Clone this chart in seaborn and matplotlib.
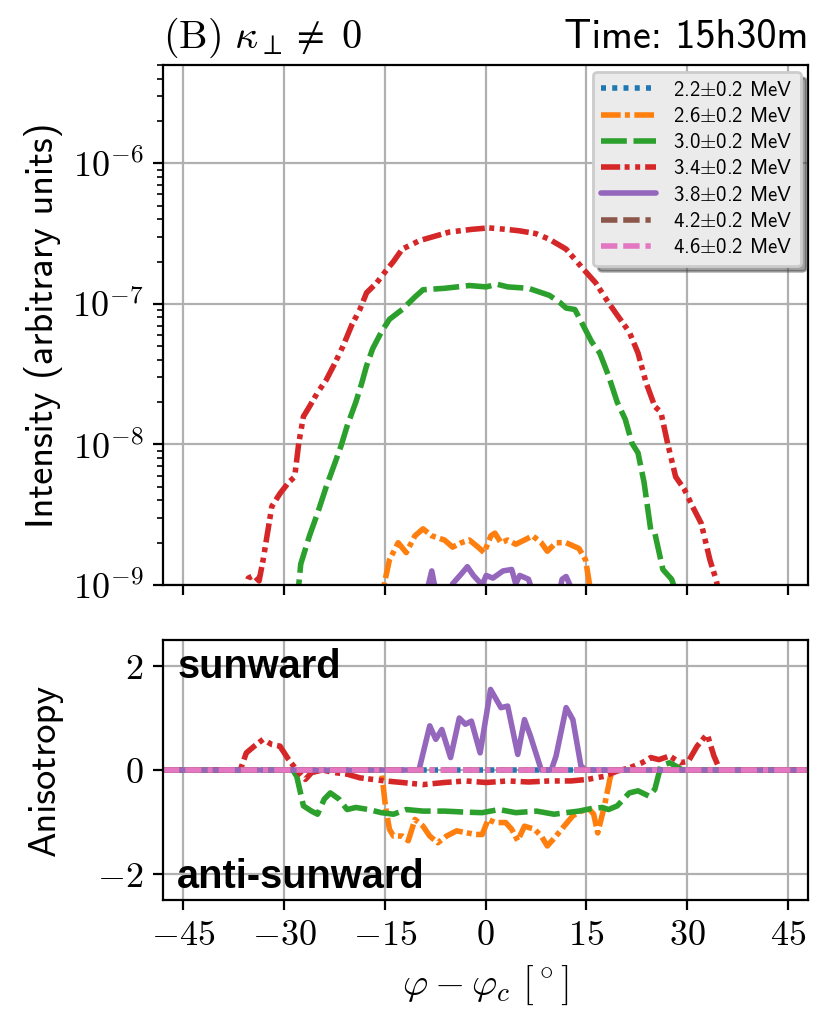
"""Intensity and anisotropy vs longitude offset, panel (B) kappa_perp != 0"""

import matplotlib
matplotlib.use("Agg")
import matplotlib.pyplot as plt
from matplotlib.ticker import LogLocator, NullFormatter
import seaborn as sns

# ---- data ----
labels = [r"2.2$\pm$0.2 MeV", r"2.6$\pm$0.2 MeV", r"3.0$\pm$0.2 MeV", r"3.4$\pm$0.2 MeV",
          r"3.8$\pm$0.2 MeV", r"4.2$\pm$0.2 MeV", r"4.6$\pm$0.2 MeV"]
colors = ["#1f77b4", "#ff7f0e", "#2ca02c", "#d62728", "#9467bd", "#8c564b", "#e377c2"]

# intensity (top panel), channels below 1e-9 stay off the plot
int_x_22 = [-48, 48]
int_22 = [1e-11, 1e-11]

int_x_26 = [-48, -15.4, -15.1, -14.3, -13.0, -11.8, -10.5, -9.3, -8.0, -6.1, -4.9, -3.6, -2.4,
            -1.1, -0.2, 0.8, 1.4, 2.3, 3.3, 4.5, 5.8, 7.0, 8.3, 9.2, 10.5, 12.0, 13.9, 14.9,
            15.5, 15.7, 48]
int_26 = [1e-11, 8e-10, 1.0e-9, 1.51e-9, 2.0e-9, 1.70e-9, 2.24e-9, 2.51e-9, 2.24e-9, 2.09e-9,
          1.86e-9, 2.0e-9, 2.09e-9, 1.86e-9, 1.70e-9, 2.24e-9, 2.34e-9, 2.0e-9, 2.09e-9, 1.95e-9,
          2.09e-9, 2.24e-9, 2.0e-9, 1.74e-9, 2.0e-9, 2.0e-9, 1.82e-9, 1.51e-9, 1.0e-9, 8e-10, 1e-11]

int_x_30 = [-48, -28.2, -27.8, -27.5, -26.2, -25.0, -23.7, -22.4, -21.5, -20.6, -19.3, -18.4,
            -17.7, -16.8, -15.5, -14.3, -12.4, -10.5, -9.3, -6.1, -2.4, 0.1, 1.7, 3.3, 6.4, 9.5,
            11.1, 12.0, 13.3, 14.5, 15.8, 17.0, 18.3, 19.6, 20.8, 21.8, 22.7, 23.6, 24.6, 25.2,
            26.4, 27.7, 28.0, 28.3, 48]
int_30 = [1e-11, 8e-10, 1.0e-9, 1.41e-9, 2.24e-9, 3.24e-9, 5.01e-9, 7.41e-9, 9.77e-9, 1.35e-8,
          2.0e-8, 2.75e-8, 3.63e-8, 4.79e-8, 6.31e-8, 7.76e-8, 9.12e-8, 1.12e-7, 1.26e-7, 1.29e-7,
          1.35e-7, 1.32e-7, 1.38e-7, 1.32e-7, 1.29e-7, 1.15e-7, 1.02e-7, 9.33e-8, 9.12e-8, 7.08e-8,
          5.37e-8, 4.47e-8, 3.09e-8, 2.0e-8, 1.51e-8, 1.02e-8, 8.71e-9, 5.37e-9, 2.45e-9, 2.34e-9,
          1.29e-9, 1.10e-9, 1.0e-9, 8e-10, 1e-11]

int_x_34 = [-48, -36.0, -35.3, -34.5, -33.7, -33.1, -31.8, -30.6, -29.3, -28.4, -27.8, -27.1,
            -26.2, -25.0, -23.7, -22.4, -21.2, -19.9, -18.7, -17.7, -16.2, -14.9, -13.7, -12.4,
            -9.8, -5.4, -2.0, 0.5, 3.0, 5.0, 7.5, 9.5, 12.0, 14.5, 16.4, 18.3, 19.6, 21.4, 22.7,
            23.9, 25.2, 26.1, 27.1, 28.3, 29.6, 30.8, 32.1, 33.4, 34.3, 35.0, 48]
int_34 = [1e-11, 9.0e-10, 1.12e-9, 1.17e-9, 1.07e-9, 1.51e-9, 3.63e-9, 4.47e-9, 5.37e-9, 5.89e-9,
          1.02e-8, 1.58e-8, 1.86e-8, 2.34e-8, 2.88e-8, 3.80e-8, 5.01e-8, 7.08e-8, 9.12e-8, 1.20e-7,
          1.41e-7, 1.70e-7, 2.0e-7, 2.45e-7, 2.82e-7, 3.24e-7, 3.39e-7, 3.47e-7, 3.39e-7, 3.31e-7,
          3.16e-7, 2.88e-7, 2.45e-7, 1.78e-7, 1.41e-7, 1.02e-7, 8.32e-8, 6.31e-8, 4.47e-8, 2.75e-8,
          1.86e-8, 1.70e-8, 1.02e-8, 5.89e-9, 4.79e-9, 3.63e-9, 2.75e-9, 1.51e-9, 1.10e-9, 7.9e-10,
          1e-11]

int_x_38 = [-48, -9.0, -8.0, -7.4, -5.5, -4.9, -3.6, -2.7, -1.8, -0.5, 0.1, 1.1, 2.6, 3.9, 4.5,
            5.1, 6.4, 7.0, 10.8, 11.4, 12.0, 13.0, 48]
int_38 = [1e-11, 8e-10, 1.26e-9, 9e-10, 8e-10, 1.02e-9, 1.20e-9, 1.35e-9, 1.17e-9, 1.0e-9, 1.17e-9,
          1.12e-9, 1.26e-9, 1.29e-9, 1.02e-9, 1.17e-9, 1.10e-9, 9e-10, 8e-10, 1.10e-9, 1.15e-9,
          9e-10, 1e-11]

int_x_42 = [-48, 48]
int_42 = [1e-11, 1e-11]
int_x_46 = [-48, 48]
int_46 = [1e-11, 1e-11]

# anisotropy (bottom panel)
ani_x_22 = [-48, 48]
ani_22 = [0, 0]

ani_x_26 = [-48, -15.5, -14.9, -14.3, -13.7, -12.4, -11.5, -10.5, -9.3, -8.3, -7.1, -5.8, -4.3,
            -2.7, -1.4, -0.5, 0.4, 1.4, 3.0, 3.9, 4.8, 5.8, 7.3, 8.3, 9.2, 10.5, 11.7, 13.0, 14.2,
            15.5, 16.1, 16.7, 17.7, 18.6, 19.2, 48]
ani_26 = [0, 0, -0.69, -1.14, -1.27, -1.27, -1.36, -0.95, -1.08, -1.27, -1.40, -1.27, -1.17,
          -1.21, -1.24, -1.24, -0.95, -1.01, -1.01, -1.14, -1.36, -1.08, -1.14, -1.27, -1.46,
          -1.27, -1.08, -0.88, -0.79, -0.76, -0.85, -1.21, -0.69, -0.12, 0, 0]

ani_x_30 = [-48, -28.7, -28.1, -27.1, -25.9, -25.0, -24.0, -23.1, -21.8, -20.6, -19.3, -17.4,
            -15.5, -13.7, -11.8, -9.3, -6.1, -3.0, -0.5, 2.0, 4.5, 7.6, 10.2, 12.0, 13.9, 15.8,
            17.4, 18.3, 19.6, 21.4, 22.7, 24.3, 25.2, 26.1, 27.4, 28.3, 29.3, 48]
ani_30 = [0, 0, -0.12, -0.69, -0.79, -0.85, -0.56, -0.44, -0.56, -0.76, -0.72, -0.76, -0.82,
          -0.85, -0.76, -0.79, -0.79, -0.81, -0.82, -0.76, -0.82, -0.79, -0.85, -0.82, -0.79,
          -0.74, -0.72, -0.76, -0.69, -0.44, -0.40, -0.5, -0.37, 0.08, 0.14, 0.08, 0, 0]

ani_x_34 = [-48, -36.5, -35.6, -34.4, -33.1, -31.8, -30.6, -29.3, -28.1, -26.8, -25.9, -24.3,
            -22.4, -20.6, -18.7, -16.8, -14.9, -12.4, -9.3, -6.1, -3.0, 0.1, 3.3, 6.4, 9.5, 12.7,
            15.2, 17.7, 19.6, 21.4, 23.3, 24.6, 25.8, 27.4, 29.0, 30.2, 31.5, 33.0, 34.0, 34.9, 48]
ani_34 = [0, 0, 0.33, 0.46, 0.59, 0.49, 0.46, 0.2, 0, -0.18, -0.05, 0, -0.05, -0.08, -0.15,
          -0.18, -0.21, -0.24, -0.28, -0.24, -0.21, -0.24, -0.21, -0.23, -0.21, -0.21, -0.18,
          -0.12, -0.02, 0.04, 0.14, 0.24, 0.2, 0.27, 0.14, 0.17, 0.46, 0.69, 0.27, 0, 0]

ani_x_38 = [-48, -9.9, -8.3, -7.4, -6.5, -5.2, -3.9, -3.0, -2.1, -0.8, 0.75, 2.3, 3.3, 4.8, 5.8,
            6.7, 8.3, 9.8, 10.5, 12.0, 13.0, 14.2, 14.9, 48]
ani_38 = [0, 0, 0.85, 0.59, 0.78, 0.24, 1.0, 0.88, 0.94, 0.33, 1.55, 1.2, 1.23, 0.30, 0.97, 0.65,
          0, 0, 0.27, 1.2, 0.97, 0.08, 0, 0]

ani_x_42 = [-48, 48]
ani_42 = [0, 0]
ani_x_46 = [-48, 48]
ani_46 = [0, 0]

x_ticks = [-45, -30, -15, 0, 15, 30, 45]

# ---- style ----
sns.set_style("ticks", {"axes.grid": True, "grid.color": "#b0b0b0", "axes.edgecolor": "black",
                        "text.color": "black", "axes.labelcolor": "black",
                        "xtick.color": "black", "ytick.color": "black"})
plt.rcParams["font.family"] = ["cmss10", "DejaVu Sans"]
plt.rcParams["mathtext.fontset"] = "cm"
plt.rcParams["lines.scale_dashes"] = False
plt.rcParams["axes.unicode_minus"] = False

styles = [(0, (1.8, 2.25)),
          (0, (7.1, 1.5, 1.8, 1.6)),
          (0, (9.3, 2.4)),
          (0, (6.9, 1.6, 1.8, 2.0, 1.8, 1.8)),
          "-",
          (0, (5.9, 2.1, 5.9, 2.1, 1.9, 2.1)),
          (0, (5.9, 2.1, 5.9, 2.1, 1.9, 2.1))]

int_x = [int_x_22, int_x_26, int_x_30, int_x_34, int_x_38, int_x_42, int_x_46]
int_y = [int_22, int_26, int_30, int_34, int_38, int_42, int_46]
ani_x = [ani_x_22, ani_x_26, ani_x_30, ani_x_34, ani_x_38, ani_x_42, ani_x_46]
ani_y = [ani_22, ani_26, ani_30, ani_34, ani_38, ani_42, ani_46]

fig = plt.figure(figsize=(4.15, 5.15), dpi=200)
ax1 = fig.add_axes([0.1964, 0.4320, 0.7771, 0.5049])
ax2 = fig.add_axes([0.1964, 0.1262, 0.7771, 0.2524], sharex=ax1)

for i in range(7):
    sns.lineplot(x=int_x[i], y=int_y[i], ax=ax1, color=colors[i], linestyle=styles[i],
                 linewidth=2.0, label=labels[i], errorbar=None)
    sns.lineplot(x=ani_x[i], y=ani_y[i], ax=ax2, color=colors[i], linestyle=styles[i],
                 linewidth=2.0, errorbar=None)

# top panel
ax1.set_yscale("log")
ax1.set_ylim(1e-9, 5e-6)
ax1.set_xlim(-48, 48)
ax1.set_yticks([1e-9, 1e-8, 1e-7, 1e-6], [r"$10^{-9}$", r"$10^{-8}$", r"$10^{-7}$", r"$10^{-6}$"])
ax1.yaxis.set_minor_locator(LogLocator(base=10, subs=[2, 3, 4, 5, 6, 7, 8, 9]))
ax1.yaxis.set_minor_formatter(NullFormatter())
ax1.tick_params(axis="y", labelsize=13)
ax1.tick_params(axis="x", labelbottom=False)
ax1.set_ylabel("Intensity (arbitrary units)", fontsize=13.8)
ax1.yaxis.set_label_coords(-0.155, 0.5)
ax1.set_title(r"$\mathrm{(B)}\ \kappa_{\perp} \neq\; 0$", loc="left", fontsize=14.5)
ax1.set_title("Time: 15h30m", loc="right", fontsize=14.5)
leg = ax1.legend(loc="upper right", shadow=True, fontsize=7.5, handlelength=2.65,
                 labelspacing=0.35, borderaxespad=0.35, facecolor="#ebebeb", framealpha=1)
leg.get_frame().set_edgecolor("#cccccc")

# bottom panel
ax2.set_ylim(-2.5, 2.5)
ax2.set_xticks(x_ticks, [r"$%d$" % t for t in x_ticks])
ax2.set_yticks([-2, 0, 2], [r"$-2$", r"$0$", r"$2$"])
ax2.tick_params(axis="both", labelsize=13)
ax2.set_ylabel("Anisotropy", fontsize=13.8)
ax2.yaxis.set_label_coords(-0.155, 0.5)
ax2.set_xlabel(r"$\varphi - \varphi_c\ [^\circ]$", fontsize=14)
ax2.text(0.022, 0.854, "sunward", transform=ax2.transAxes, fontsize=14.3, color="black",
         fontweight="bold", family="Liberation Sans")
ax2.text(0.022, 0.046, "anti-sunward", transform=ax2.transAxes, fontsize=14.3, color="black",
         fontweight="bold", family="Liberation Sans")

fig.savefig("out.png", dpi=200)
